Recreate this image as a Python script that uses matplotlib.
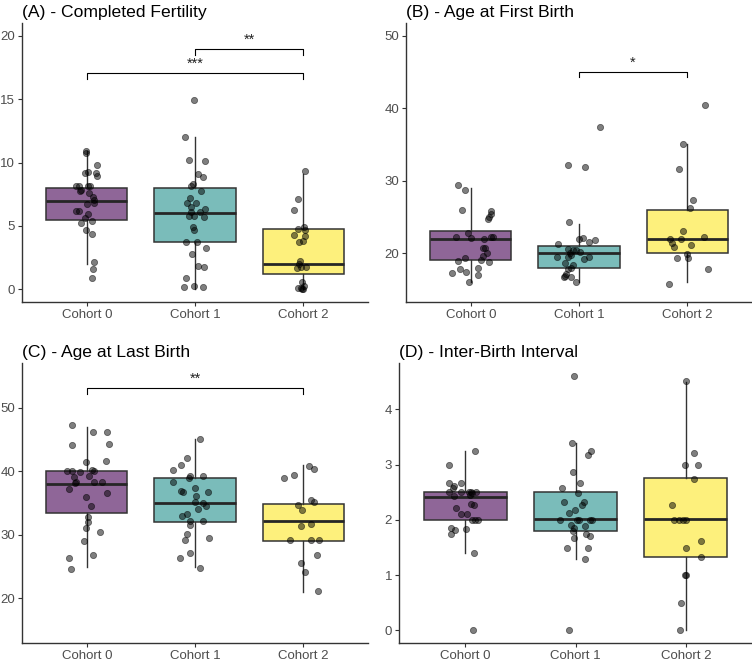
import numpy as np
import matplotlib
matplotlib.use("Agg")
import matplotlib.pyplot as plt
from matplotlib.colors import to_rgba

plt.rcParams['font.family'] = ['Liberation Sans', 'DejaVu Sans']

cohorts = ['Cohort 0', 'Cohort 1', 'Cohort 2']
fills = ['#440154', '#21908C', '#FDE725']

# box stats per cohort: (whisker low, q1, median, q3, whisker high)
# (A) Completed Fertility
fert_box = [(2.0, 5.5, 7.0, 8.0, 10.9), (0.0, 3.75, 6.05, 8.0, 12.0), (0.0, 1.2, 2.0, 4.75, 9.1)]
fert_c0 = [10.92, 10.76, 9.84, 9.26, 9.16, 9.18, 8.95, 8.16, 8.13, 7.87, 8.13, 8.13, 7.79, 7.63, 7.29,
           7.03, 6.84, 6.71, 6.18, 6.18, 5.97, 5.61, 5.26, 5.37, 4.66, 4.34, 2.13, 1.63, 0.87]
fert_c0_jit = [-0.01, -0.01, 0.09, 0.01, -0.02, 0.08, 0.09, -0.10, -0.07, -0.05, 0.01, 0.03, -0.06, 0.02, 0.06,
               0.07, 0.07, 0.0, -0.07, -0.10, 0.01, -0.02, -0.05, 0.05, -0.01, 0.05, 0.07, 0.06, 0.05]
fert_c1 = [14.92, 12.05, 10.18, 10.1, 9.1, 8.84, 8.34, 8.13, 7.79, 7.24, 6.84, 6.84, 6.5, 6.37, 6.1, 6.1,
           5.76, 5.76, 5.68, 4.92, 4.71, 3.74, 3.74, 3.26, 2.82, 1.87, 1.74, 0.87, 0.18, 0.26, 0.18]
fert_c1_jit = [-0.01, -0.09, -0.06, 0.09, 0.03, 0.07, -0.02, -0.04, 0.06, -0.05, -0.07, 0.01, -0.04, 0.09, -0.04, 0.05,
               -0.06, -0.01, 0.08, -0.02, -0.01, -0.08, 0.02, 0.10, -0.03, 0.03, 0.08, -0.08, -0.10, -0.01, 0.07]
fert_c2 = [9.32, 7.1, 6.29, 4.92, 4.76, 4.71, 4.32, 4.24, 3.82, 3.76, 2.24, 2.03, 1.76, 1.71, 1.74,
           0.58, 0.26, 0.13, 0.03, 0.0, 0.13]
fert_c2_jit = [0.02, -0.05, -0.08, 0.01, -0.05, 0.02, -0.08, 0.02, 0.0, -0.04, -0.03, -0.04, -0.02, -0.06, 0.03,
               -0.01, 0.01, -0.05, -0.01, 0.0, -0.02]
fert_sig = [(1, 2, 18.95, '**'), (0, 2, 17.05, '***')]

# (B) Age at First Birth
afb_box = [(16.0, 19.0, 22.0, 23.0, 29.0), (16.0, 18.0, 20.0, 21.0, 24.0), (16.0, 20.0, 22.0, 26.0, 35.0)]
afb_c0 = [29.33, 28.73, 25.88, 25.74, 25.37, 24.96, 24.73, 22.76, 22.2, 22.02, 21.93, 22.16, 22.2, 20.73,
          20.73, 20.0, 19.63, 19.31, 19.08, 18.94, 18.8, 17.8, 17.98, 17.34, 17.2, 17.0, 16.0]
afb_c0_jit = [-0.12, -0.055, -0.08, 0.19, 0.19, 0.17, 0.16, -0.03, -0.135, 0.0, 0.12, 0.185, 0.2, 0.13,
              0.11, 0.15, 0.11, -0.055, 0.09, -0.12, 0.17, -0.10, 0.065, -0.045, -0.17, 0.065, -0.02]
afb_c1 = [37.45, 32.13, 31.94, 24.32, 21.93, 22.02, 21.8, 21.47, 21.29, 20.55, 20.37, 20.37, 20.18, 20.0,
          19.68, 19.4, 19.4, 19.4, 19.13, 18.67, 18.3, 17.98, 17.84, 17.1, 16.83, 16.69, 16.69, 16.0]
afb_c1_jit = [0.19, -0.105, 0.06, -0.09, 0.0, 0.04, 0.145, 0.095, -0.19, -0.105, -0.06, -0.025, 0.01, -0.085,
              -0.07, -0.2, -0.1, 0.09, 0.05, -0.13, -0.06, -0.075, -0.105, -0.12, -0.13, -0.14, -0.075, -0.03]
afb_c2 = [40.4, 35.07, 31.67, 27.35, 26.16, 22.99, 22.2, 21.93, 21.88, 21.38, 21.15, 20.87, 19.86, 19.36,
          19.26, 17.8, 15.73]
afb_c2_jit = [0.165, -0.04, -0.075, 0.05, 0.03, -0.04, 0.155, -0.155, -0.06, -0.14, 0.035, -0.12, 0.0, 0.01,
              -0.09, 0.19, -0.17]
afb_sig = [(1, 2, 45.03, '*')]

# (C) Age at Last Birth
alb_box = [(25.0, 33.5, 38.0, 40.0, 47.0), (25.0, 32.0, 35.0, 39.0, 45.0), (21.0, 29.0, 32.1, 34.9, 41.0)]
alb_c0 = [47.3, 46.16, 46.16, 44.1, 44.26, 41.37, 41.53, 40.05, 40.05, 39.84, 40.16, 40.05, 39.1, 39.3, 38.37,
          38.1, 38.3, 38.3, 37.16, 35.95, 36.63, 34.58, 32.74, 32.0, 31.05, 30.37, 29.0, 26.3, 26.8, 24.58]
alb_c0_jit = [-0.14, 0.06, 0.19, -0.14, 0.2, -0.01, 0.18, -0.18, -0.14, -0.06, 0.05, 0.07, -0.12, 0.02, -0.105,
              -0.11, 0.07, 0.14, -0.165, -0.01, 0.19, 0.04, 0.01, 0.01, -0.01, 0.12, -0.03, -0.165, 0.06, -0.15]
alb_c1 = [45.1, 42.05, 41.05, 40.2, 39.0, 39.3, 39.3, 38.26, 36.95, 36.7, 37.3, 36.8, 36.05, 35.05, 35.16,
          34.58, 34.05, 33.26, 32.95, 32.16, 32.2, 31.53, 30.2, 29.16, 29.53, 27.16, 26.3, 24.8]
alb_c1_jit = [0.045, -0.075, -0.13, -0.2, -0.06, -0.045, 0.07, -0.2, -0.125, -0.11, 0.0, 0.12, 0.01, 0.07, 0.0,
              0.1, 0.03, -0.07, -0.12, -0.045, 0.07, -0.05, -0.07, -0.09, 0.125, -0.05, -0.14, 0.05]
alb_c2 = [40.74, 40.42, 39.37, 39.0, 35.42, 35.2, 34.63, 33.9, 31.74, 31.37, 29.16, 29.16, 29.16, 25.63,
          26.8, 24.1, 21.2]
alb_c2_jit = [0.055, 0.1, -0.08, -0.18, 0.075, 0.105, -0.05, -0.01, 0.075, -0.02, -0.12, 0.075, 0.145, -0.02,
              0.125, 0.02, 0.135]
alb_sig = [(0, 2, 53.05, '**')]

# (D) Inter-Birth Interval
ibi_box = [(1.4, 2.0, 2.42, 2.51, 3.25), (1.3, 1.8, 2.01, 2.51, 3.4), (0.0, 1.33, 2.01, 2.76, 4.5)]
ibi_c0 = [3.24, 3.0, 2.67, 2.62, 2.66, 2.57, 2.5, 2.44, 2.51, 2.51, 2.45, 2.51, 2.51, 2.48, 2.29, 2.26,
          2.21, 2.1, 2.1, 2.0, 2.0, 2.0, 1.86, 1.82, 1.75, 1.83, 1.4, 0.0]
ibi_c0_jit = [0.09, -0.15, -0.15, -0.1, -0.035, -0.11, -0.15, -0.1, -0.035, 0.035, 0.04, 0.055, 0.1, 0.065,
              0.05, 0.08, -0.085, -0.04, 0.015, 0.06, 0.09, 0.12, -0.13, -0.095, -0.13, 0.01, 0.08, 0.07]
ibi_c1 = [4.61, 3.4, 3.25, 3.17, 2.86, 2.66, 2.57, 2.49, 2.33, 2.33, 2.26, 2.17, 2.12, 2.0, 2.0, 2.0, 2.0,
          2.0, 1.9, 1.86, 1.88, 1.8, 1.75, 1.71, 1.67, 1.49, 1.49, 1.3, 0.0]
ibi_c1_jit = [-0.01, -0.03, 0.14, 0.115, -0.025, 0.045, -0.12, 0.027, -0.1, 0.075, 0.063, -0.006, -0.055,
              -0.14, 0.018, 0.033, 0.13, 0.154, -0.045, -0.01, 0.085, -0.025, 0.094, 0.13, -0.012, -0.08,
              0.11, 0.09, -0.055]
ibi_c2 = [4.51, 3.21, 2.99, 2.99, 2.74, 2.26, 2.0, 2.0, 2.0, 2.0, 1.61, 1.49, 1.33, 1.0, 1.0, 0.5, 0.0]
ibi_c2_jit = [0.006, 0.07, -0.006, 0.11, 0.07, -0.124, -0.11, -0.066, -0.03, 0.0, 0.14, 0.003, 0.142,
              -0.006, 0.003, -0.045, -0.057]
ibi_sig = []

panels = [
    ('(A) - Completed Fertility', fert_box, [fert_c0, fert_c1, fert_c2],
     [fert_c0_jit, fert_c1_jit, fert_c2_jit], fert_sig, (-1.0, 21.0), [0, 5, 10, 15, 20]),
    ('(B) - Age at First Birth', afb_box, [afb_c0, afb_c1, afb_c2],
     [afb_c0_jit, afb_c1_jit, afb_c2_jit], afb_sig, (13.25, 51.75), [20, 30, 40, 50]),
    ('(C) - Age at Last Birth', alb_box, [alb_c0, alb_c1, alb_c2],
     [alb_c0_jit, alb_c1_jit, alb_c2_jit], alb_sig, (13.0, 57.0), [20, 30, 40, 50]),
    ('(D) - Inter-Birth Interval', ibi_box, [ibi_c0, ibi_c1, ibi_c2],
     [ibi_c0_jit, ibi_c1_jit, ibi_c2_jit], ibi_sig, (-0.23, 4.84), [0, 1, 2, 3, 4]),
]

W, H = 752, 661
# axes boxes in pixels: left, top, right, bottom
boxes_px = [(22, 23, 368, 302), (406, 23, 752, 302), (22, 363, 368, 643), (399, 363, 752, 643)]


def draw_panel(ax, title, box, pts, jit, sig, ylim, yticks):
    x = np.arange(1, 4)
    stats = [dict(whislo=b[0], q1=b[1], med=b[2], q3=b[3], whishi=b[4], label=c)
             for b, c in zip(box, cohorts)]
    bp = ax.bxp(stats, positions=x, widths=0.75, patch_artist=True, showcaps=False, showfliers=False,
                boxprops=dict(edgecolor='#333333', linewidth=1.1),
                medianprops=dict(color='#262626', linewidth=2.0),
                whiskerprops=dict(color='#333333', linewidth=1.0))
    for patch, c in zip(bp['boxes'], fills):
        patch.set_facecolor(to_rgba(c, 0.6))

    for i in range(3):
        ax.scatter(x[i] + np.array(jit[i]), pts[i], s=20, color='black', alpha=0.5,
                   edgecolors='black', linewidths=0.6, zorder=3)

    drop = 0.02 * (ylim[1] - ylim[0])
    for i, j, y, lab in sig:
        ax.plot([x[i], x[i], x[j], x[j]], [y - drop, y, y, y - drop], color='black', lw=0.8)
        ax.annotate(lab, ((x[i] + x[j]) / 2, y), xytext=(0, 1.5), textcoords='offset points',
                    ha='center', va='bottom', fontsize=10.5, color='#222222')

    ax.set_xlim(0.4, 3.6)
    ax.set_ylim(*ylim)
    ax.set_xticks(x)
    ax.set_xticklabels(cohorts)
    ax.set_yticks(yticks)
    for s in ['top', 'right']:
        ax.spines[s].set_visible(False)
    for s in ['left', 'bottom']:
        ax.spines[s].set_color('#333333')
        ax.spines[s].set_linewidth(1.0)
    ax.tick_params(axis='both', length=2.75, width=0.8, color='#333333',
                   labelsize=9.5, labelcolor='#4D4D4D', pad=2.2)
    ax.set_title(title, loc='left', fontsize=12.6, pad=4.5, color='black')


fig = plt.figure(figsize=(W / 100, H / 100), dpi=100)
for (l, t, r, b), p in zip(boxes_px, panels):
    ax = fig.add_axes([l / W, 1 - b / H, (r - l) / W, (b - t) / H])
    draw_panel(ax, *p)

fig.savefig('out.png', dpi=100)
